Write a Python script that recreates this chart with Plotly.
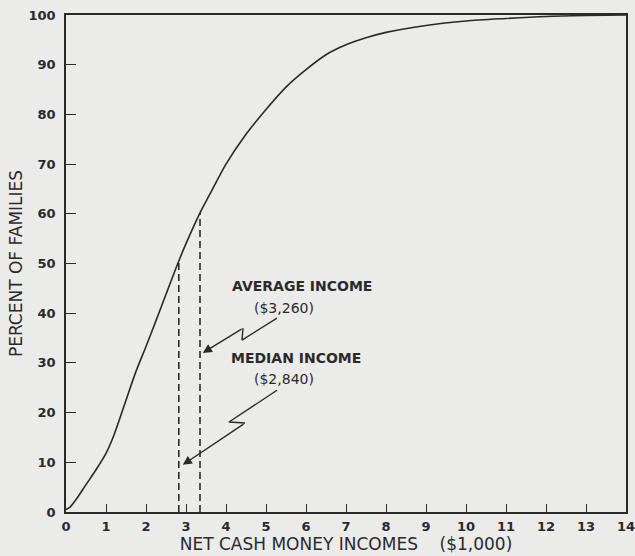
import plotly.graph_objects as go

# Cumulative distribution of families by net cash money income
income_k = [0, 0.1, 0.25, 0.5, 0.75, 1.0, 1.2, 1.5, 1.75, 2.0, 2.25, 2.5, 2.82, 3.0, 3.35,
            3.6, 4.0, 4.5, 5.0, 5.5, 6.0, 6.5, 7.0, 7.5, 8.0, 9.0, 10.0, 11.0, 12.0, 13.0, 14.0]
pct_families = [0.5, 1, 2.5, 5.5, 8.5, 11.8, 15.5, 22.5, 28.3, 33.3, 38.5, 43.8, 50.5, 54, 60.2,
                64, 70, 76, 81, 85.5, 89, 92, 94, 95.4, 96.5, 97.9, 98.8, 99.3, 99.7, 99.9, 100]

median_x, median_y = 2.82, 50.5
average_x, average_y = 3.35, 60.2

x_ticks = list(range(0, 15))
y_ticks = list(range(0, 101, 10))

# zig-zag pointer paths (income, percent)
avg_zig_x = [5.275, 4.4, 4.425]
avg_zig_y = [39.0, 34.6, 37.0]
avg_tip = (3.42, 32.0)
med_zig_x = [5.275, 4.075, 4.475]
med_zig_y = [24.5, 18.1, 17.9]
med_tip = (2.92, 9.5)

ink = "#2a2a2a"
paper = "#ebebea"

fig = go.Figure()
fig.add_trace(go.Scatter(x=income_k, y=pct_families, mode="lines",
                         line=dict(color=ink, width=1.6, shape="spline", smoothing=0.8),
                         hoverinfo="skip", showlegend=False))
for xv, yv in [(median_x, median_y), (average_x, average_y)]:
    fig.add_trace(go.Scatter(x=[xv, xv], y=[0, yv], mode="lines",
                             line=dict(color=ink, width=1.6, dash="7px,4px"),
                             hoverinfo="skip", showlegend=False))
for zx, zy in [(avg_zig_x, avg_zig_y), (med_zig_x, med_zig_y)]:
    fig.add_trace(go.Scatter(x=zx, y=zy, mode="lines",
                             line=dict(color=ink, width=1.4),
                             hoverinfo="skip", showlegend=False))

for zx, zy, tip in [(avg_zig_x, avg_zig_y, avg_tip), (med_zig_x, med_zig_y, med_tip)]:
    fig.add_annotation(x=tip[0], y=tip[1], ax=zx[-1], ay=zy[-1],
                       xref="x", yref="y", axref="x", ayref="y",
                       showarrow=True, arrowhead=2, arrowsize=1.3, arrowwidth=1.4,
                       arrowcolor=ink, text="")

bold_font = dict(family="DejaVu Sans", size=14, color=ink, weight="bold")
reg_font = dict(family="DejaVu Sans", size=14, color=ink)
fig.add_annotation(x=5.9, y=45.5, xref="x", yref="y", text="AVERAGE INCOME",
                   showarrow=False, font=bold_font)
fig.add_annotation(x=5.45, y=41.0, xref="x", yref="y", text="($3,260)",
                   showarrow=False, font=reg_font)
fig.add_annotation(x=5.75, y=31.0, xref="x", yref="y", text="MEDIAN INCOME",
                   showarrow=False, font=bold_font)
fig.add_annotation(x=5.45, y=26.8, xref="x", yref="y", text="($2,840)",
                   showarrow=False, font=reg_font)

axis_common = dict(showline=True, linecolor=ink, linewidth=1.6, mirror=True,
                   ticks="inside", tickcolor=ink, tickwidth=1.4,
                   showgrid=False, zeroline=False, automargin=False,
                   ticklabeloverflow="allow",
                   tickfont=dict(family="DejaVu Sans", size=13, color=ink, weight="bold"))

fig.update_layout(
    width=635, height=556,
    margin=dict(l=66, r=9, t=15, b=44),
    paper_bgcolor=paper, plot_bgcolor=paper,
    xaxis=dict(range=[0, 14], tickvals=x_ticks, ticklen=8, ticklabelstandoff=2,
               title=dict(text="NET CASH MONEY INCOMES    ($1,000)", standoff=2,
                          font=dict(family="DejaVu Sans", size=17, color=ink)),
               **axis_common),
    yaxis=dict(range=[0, 100], tickvals=y_ticks, ticklen=10, ticklabelstandoff=6,
               title=dict(text="PERCENT OF FAMILIES", standoff=2,
                          font=dict(family="DejaVu Sans", size=17, color=ink)),
               **axis_common),
)

fig.write_html("out.html", config={"displayModeBar": False},
               post_script="document.body.style.margin='0';"
                           "document.body.style.background='" + paper + "';")
